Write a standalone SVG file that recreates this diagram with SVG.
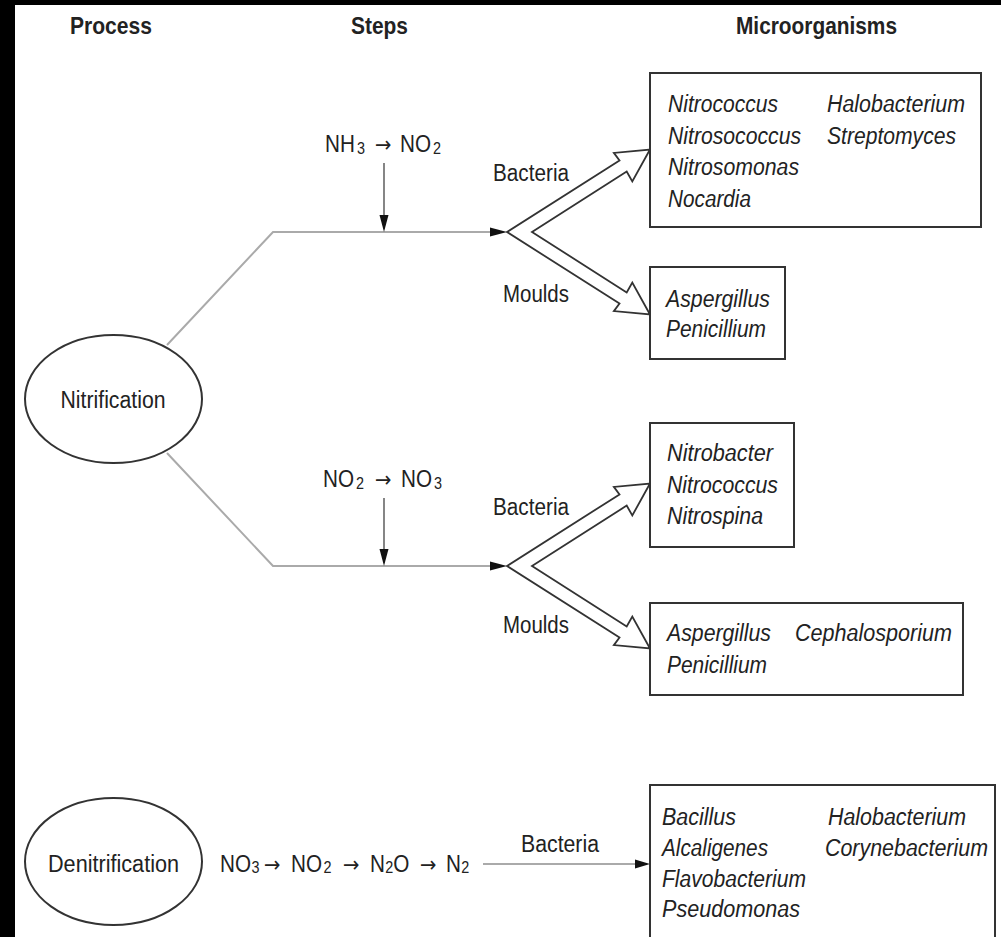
<svg xmlns="http://www.w3.org/2000/svg" width="1001" height="937" viewBox="0 0 1001 937">
<style>
.t{font-family:"Liberation Sans",Arial,Helvetica,sans-serif;font-size:23px;fill:#222}
.i{font-style:italic}
.h{font-weight:bold;font-size:24px}
.sub{font-size:16px}
.ar{font-family:"DejaVu Sans",sans-serif;font-size:22px}
.box{fill:#fff;stroke:#333;stroke-width:2}
.ell{fill:#fff;stroke:#333;stroke-width:2}
.conn{fill:none;stroke:#aaa;stroke-width:2}
.thin{fill:none;stroke:#444;stroke-width:1.3}
.head{fill:#111;stroke:none}
.hollow{fill:#fff;stroke:#333;stroke-width:1.8;stroke-linejoin:miter}
</style>
<defs>
<path id="fork" d="M0,0 L112.5,-71.6 L106.9,-79.1 L143,-82.5 L125.3,-50.5 L119.7,-60.4 L25,0 L119.7,60.4 L125.3,50.5 L143,82.5 L106.9,79.1 L112.5,71.6 Z"/>
</defs>
<rect x="0" y="0" width="1001" height="937" fill="#000"/>
<rect x="15" y="5" width="986" height="932" fill="#fff"/>

<g id="headers" class="t h">
<text x="70" y="34" textLength="82" lengthAdjust="spacingAndGlyphs">Process</text>
<text x="351" y="34" textLength="57" lengthAdjust="spacingAndGlyphs">Steps</text>
<text x="736" y="34" textLength="161" lengthAdjust="spacingAndGlyphs">Microorganisms</text>
</g>

<g id="connectors">
<polyline class="conn" points="167,345 273,232 492,232"/>
<polygon class="head" points="490,227.5 507,232 490,236.5"/>
<polyline class="conn" points="167,453 273,566 492,566"/>
<polygon class="head" points="490,561.5 507,566 490,570.5"/>
<line class="thin" x1="384" y1="163" x2="384" y2="218"/>
<polygon class="head" points="379.5,215 388.5,215 384,232"/>
<line class="thin" x1="384" y1="498" x2="384" y2="552"/>
<polygon class="head" points="379.5,549 388.5,549 384,566"/>
<use href="#fork" class="hollow" transform="translate(507,232)"/>
<use href="#fork" class="hollow" transform="translate(507,566)"/>
<line class="conn" x1="483" y1="864" x2="637" y2="864"/>
<polygon class="head" points="635,859.5 650,864 635,868.5"/>
</g>

<g id="n-nitrification">
<ellipse class="ell" cx="113.5" cy="399" rx="88.5" ry="64"/>
<text class="t" x="113" y="408" text-anchor="middle" textLength="105" lengthAdjust="spacingAndGlyphs">Nitrification</text>
</g>

<g id="n-denitrification">
<ellipse class="ell" cx="113.5" cy="861.5" rx="88.5" ry="63.5"/>
<text class="t" x="113.5" y="872" text-anchor="middle" textLength="131" lengthAdjust="spacingAndGlyphs">Denitrification</text>
</g>

<g id="steps" class="t">
<text transform="translate(325,152) scale(0.9,1)" y="0"><tspan x="0">NH</tspan><tspan class="sub" x="35.6" dy="2">3</tspan><tspan class="ar" x="55.6" dy="-2">→</tspan><tspan x="83.3">NO</tspan><tspan class="sub" x="120" dy="2">2</tspan></text>
<text transform="translate(323,487) scale(0.9,1)" y="0"><tspan x="0">NO</tspan><tspan class="sub" x="36.7" dy="2">2</tspan><tspan class="ar" x="57.8" dy="-2">→</tspan><tspan x="86.7">NO</tspan><tspan class="sub" x="123.3" dy="2">3</tspan></text>
<text transform="translate(220,872) scale(0.9,1)" y="0"><tspan x="0">NO</tspan><tspan class="sub" x="35" dy="1">3</tspan><tspan class="ar" x="48.9" dy="-1">→</tspan><tspan x="78.9">NO</tspan><tspan class="sub" x="115" dy="1">2</tspan><tspan class="ar" x="136.7" dy="-1">→</tspan><tspan x="166.7">N</tspan><tspan class="sub" x="183.5" dy="1">2</tspan><tspan x="192.5" dy="-1">O</tspan><tspan class="ar" x="222.2">→</tspan><tspan x="251.1">N</tspan><tspan class="sub" x="268" dy="1">2</tspan></text>
</g>

<g id="labels" class="t">
<text x="493" y="181" textLength="76" lengthAdjust="spacingAndGlyphs">Bacteria</text>
<text x="503" y="302" textLength="66" lengthAdjust="spacingAndGlyphs">Moulds</text>
<text x="493" y="515" textLength="76" lengthAdjust="spacingAndGlyphs">Bacteria</text>
<text x="503" y="633" textLength="66" lengthAdjust="spacingAndGlyphs">Moulds</text>
<text x="521" y="852" textLength="78" lengthAdjust="spacingAndGlyphs">Bacteria</text>
</g>

<g id="box-nh3-bacteria">
<rect class="box" x="650" y="73" width="331" height="154"/>
<g class="t i">
<text x="668" y="112" textLength="110" lengthAdjust="spacingAndGlyphs">Nitrococcus</text>
<text x="668" y="143.5" textLength="133" lengthAdjust="spacingAndGlyphs">Nitrosococcus</text>
<text x="668" y="175" textLength="131" lengthAdjust="spacingAndGlyphs">Nitrosomonas</text>
<text x="668" y="206.5" textLength="83" lengthAdjust="spacingAndGlyphs">Nocardia</text>
<text x="827" y="112" textLength="138" lengthAdjust="spacingAndGlyphs">Halobacterium</text>
<text x="827" y="143.5" textLength="129" lengthAdjust="spacingAndGlyphs">Streptomyces</text>
</g>
</g>

<g id="box-nh3-moulds">
<rect class="box" x="650" y="267" width="135" height="92"/>
<g class="t i">
<text x="666" y="306.5" textLength="104" lengthAdjust="spacingAndGlyphs">Aspergillus</text>
<text x="666" y="337" textLength="100" lengthAdjust="spacingAndGlyphs">Penicillium</text>
</g>
</g>

<g id="box-no2-bacteria">
<rect class="box" x="650" y="423" width="144" height="124"/>
<g class="t i">
<text x="667" y="461" textLength="106" lengthAdjust="spacingAndGlyphs">Nitrobacter</text>
<text x="667" y="493" textLength="111" lengthAdjust="spacingAndGlyphs">Nitrococcus</text>
<text x="667" y="524" textLength="96" lengthAdjust="spacingAndGlyphs">Nitrospina</text>
</g>
</g>

<g id="box-no2-moulds">
<rect class="box" x="650" y="603" width="313" height="92"/>
<g class="t i">
<text x="667" y="641" textLength="104" lengthAdjust="spacingAndGlyphs">Aspergillus</text>
<text x="667" y="673" textLength="100" lengthAdjust="spacingAndGlyphs">Penicillium</text>
<text x="795" y="641" textLength="157" lengthAdjust="spacingAndGlyphs">Cephalosporium</text>
</g>
</g>

<g id="box-denitrification">
<rect class="box" x="650" y="785" width="345" height="170"/>
<g class="t i">
<text x="662" y="825" textLength="74" lengthAdjust="spacingAndGlyphs">Bacillus</text>
<text x="662" y="856" textLength="106" lengthAdjust="spacingAndGlyphs">Alcaligenes</text>
<text x="662" y="886.5" textLength="144" lengthAdjust="spacingAndGlyphs">Flavobacterium</text>
<text x="662" y="917" textLength="138" lengthAdjust="spacingAndGlyphs">Pseudomonas</text>
<text x="828" y="825" textLength="138" lengthAdjust="spacingAndGlyphs">Halobacterium</text>
<text x="825" y="856" textLength="163" lengthAdjust="spacingAndGlyphs">Corynebacterium</text>
</g>
</g>
</svg>
